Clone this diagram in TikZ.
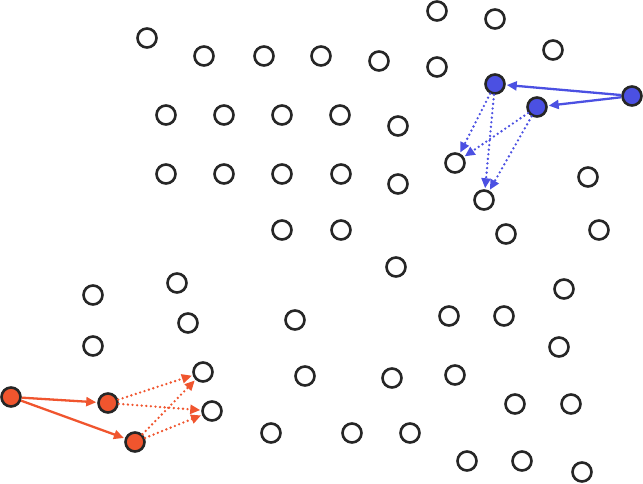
\documentclass[tikz,border=0pt]{standalone}
\usetikzlibrary{arrows.meta}

\definecolor{bluept}{HTML}{4B50E2}
\definecolor{orangept}{HTML}{F0552E}

\begin{document}
\begin{tikzpicture}[
  x=1pt,y=-1pt,
  >={Triangle[length=10pt,width=9pt]},
  pt/.style={circle,draw=black!85,line width=2.6pt,minimum size=19pt,inner sep=0pt,fill=white},
  bpt/.style={pt,fill=bluept},
  opt/.style={pt,fill=orangept},
  move/.style={->,line width=2.3pt,shorten >=1pt},
  cand/.style={->,line width=2.6pt,dash pattern=on 0pt off 4.6pt,line cap=round,shorten >=1pt}
]
\useasboundingbox (0,0) rectangle (643,484);
% plain points
\foreach \x/\y [count=\i] in {437/11,495/19,147/38,204/56,264/56,321/56,379/61,437/67,553/50,
  166/115,224/115,282/115,340/115,398/126,166/174,224/174,282/174,341/174,398/184,
  588/177,506/234,599/230,282/230,341/230,396/267,564/289,93/295,177/283,188/323,
  295/320,449/316,504/316,93/346,559/347,305/376,392/378,455/375,515/404,571/404,
  271/433,352/433,410/433,467/461,522/461,582/472}
  \node[pt] (p\i) at (\x,\y) {};
% blue group
\node[pt] (bw1) at (455,163) {};
\node[pt] (bw2) at (484,200) {};
\node[bpt] (b1) at (495,84) {};
\node[bpt] (b2) at (537,107) {};
\node[bpt] (b3) at (632,96) {};
\draw[move,bluept] (b3) -- (b1);
\draw[move,bluept] (b3) -- (b2);
\draw[cand,bluept] (b1) -- (bw1);
\draw[cand,bluept] (b1) -- (bw2);
\draw[cand,bluept] (b2) -- (bw1);
\draw[cand,bluept] (b2) -- (bw2);
% orange group
\node[pt] (ow1) at (203,372) {};
\node[pt] (ow2) at (212,411) {};
\node[opt] (o1) at (11,397) {};
\node[opt] (o2) at (108,403) {};
\node[opt] (o3) at (135,442) {};
\draw[move,orangept] (o1) -- (o2);
\draw[move,orangept] (o1) -- (o3);
\draw[cand,orangept] (o2) -- (ow1);
\draw[cand,orangept] (o2) -- (ow2);
\draw[cand,orangept] (o3) -- (ow1);
\draw[cand,orangept] (o3) -- (ow2);
\end{tikzpicture}
\end{document}
